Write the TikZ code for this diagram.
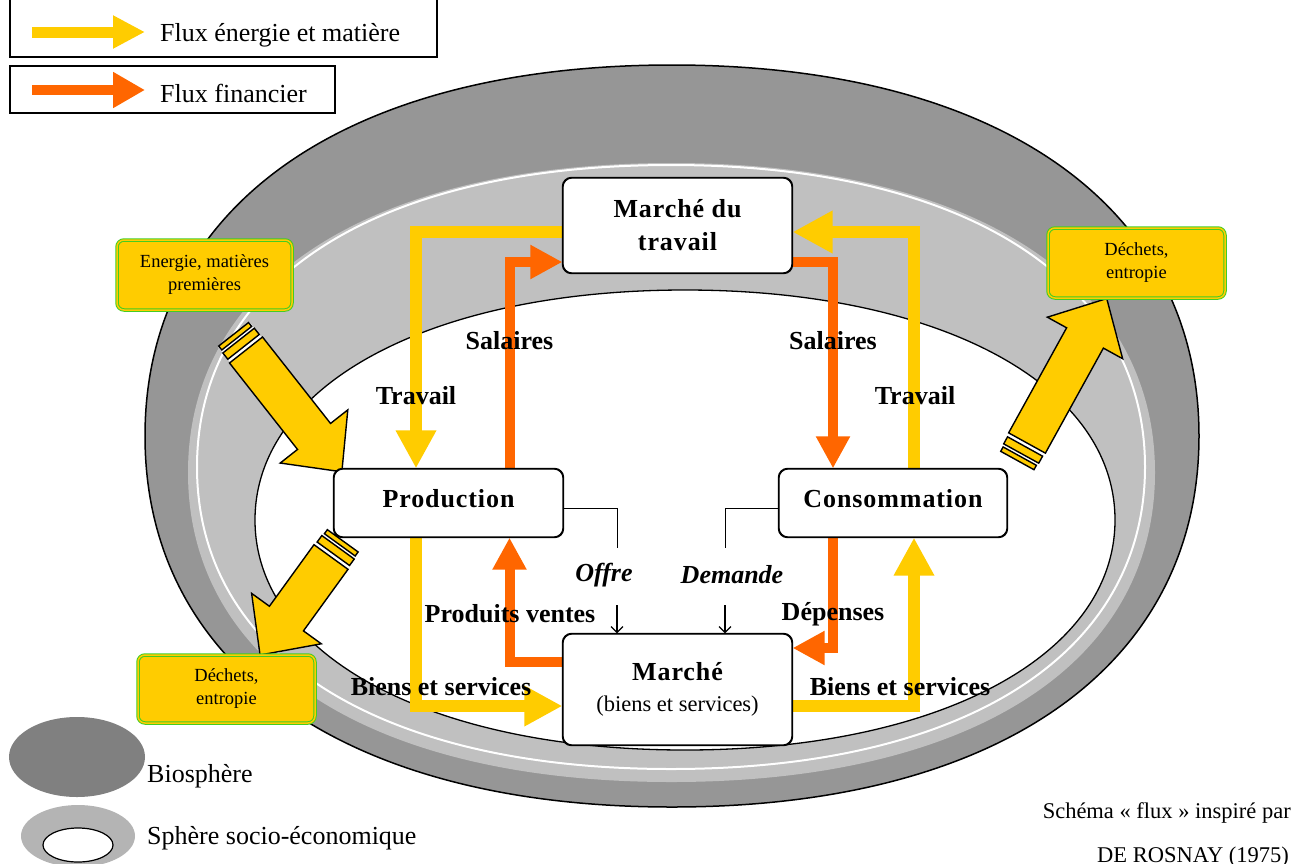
\documentclass[tikz,border=0pt]{standalone}
\usepackage{fontspec}
\setmainfont{Liberation Serif}
\usetikzlibrary{arrows.meta,calc}
\definecolor{yel}{HTML}{FFCC00}
\definecolor{org}{HTML}{FF6600}
\definecolor{biocol}{HTML}{969696}
\definecolor{sociocol}{HTML}{C0C0C0}
\definecolor{legbio}{HTML}{808080}
\definecolor{legsocio}{HTML}{B4B4B4}
\definecolor{ggreen}{HTML}{44CC22}
\newcommand{\szleg}{\fontsize{26}{30}\selectfont}
\newcommand{\szbold}{\fontsize{26}{33}\selectfont\bfseries}
\newcommand{\sztitle}{\fontsize{26}{33}\selectfont\bfseries\addfontfeature{LetterSpace=3.5}}
\newcommand{\szsub}{\fontsize{22.5}{26}\selectfont}
\newcommand{\szsmall}{\fontsize{18.5}{23}\selectfont}
% squarish ellipse: cx cy rx ry k
\newcommand{\sqell}[5]{({#1+#3},{#2}) .. controls ({#1+#3},{#2-#5*#4}) and ({#1+#5*#3},{#2-#4}) .. ({#1},{#2-#4})
 .. controls ({#1-#5*#3},{#2-#4}) and ({#1-#3},{#2-#5*#4}) .. ({#1-#3},{#2})
 .. controls ({#1-#3},{#2+#5*#4}) and ({#1-#5*#3},{#2+#4}) .. ({#1},{#2+#4})
 .. controls ({#1+#5*#3},{#2+#4}) and ({#1+#3},{#2+#5*#4}) .. ({#1+#3},{#2}) -- cycle}
\newcommand{\stripedarrow}[4]{%
\begin{scope}[shift={(#1,#2)},rotate=#3]
 \fill[white] (-20,-20) -- (0,-20) -- (0,20) -- (-20,20) -- cycle;
 \draw[bigarr] (-4,-20) -- (-12,-20) -- (-12,20) -- (-4,20) -- cycle;
 \draw[bigarr] (-15,-19) -- (-20,-19) -- (-20,19) -- (-15,19) -- cycle;
 \draw[bigarr] (0,-21) -- ({#4-45},-21) -- ({#4-45},-43) -- (#4,0) -- ({#4-45},43) -- ({#4-45},21) -- (0,21) -- cycle;
\end{scope}}
\begin{document}
\begin{tikzpicture}[x=1pt,y=-1pt,
  box/.style={draw, line width=1.2pt, fill=white, rounded corners=9pt, inner sep=0pt, align=center},
  gbox/.style={fill=yel, draw=ggreen, line width=1pt, double=yel, double distance=1.5pt, rounded corners=7pt, inner sep=0pt, align=center, font=\szsmall},
  lab/.style={inner sep=0pt, font=\szbold},
  ilab/.style={inner sep=0pt, font=\szbold\itshape},
  bigarr/.style={fill=yel, draw=black, line width=1.4pt, line join=miter},
  yarr/.style={draw=yel, line width=12pt, -{Triangle[width=38pt,length=38pt]}},
  oarr/.style={draw=org, line width=10pt, -{Triangle[width=32pt,length=32pt]}},
  thin/.style={draw=black, line width=1pt},
  smallarr/.style={draw=black, line width=1.2pt, -{Straight Barb[length=6pt,width=12pt]}}
]
\useasboundingbox (0,0) rectangle (1293,863);
\clip (0,0) rectangle (1293,863);
% spheres
\draw[fill=biocol, line width=1.5pt] \sqell{672}{436}{527}{371}{0.62};
\fill[sociocol] \sqell{671.5}{472.5}{483.5}{309.5}{0.62};
\draw[white, line width=2pt] \sqell{671}{467}{474}{302}{0.62};
\draw[fill=white, line width=1.3pt] \sqell{685}{520}{430}{230}{0.59};

% legend top
\draw[line width=1.2pt] (10,-10) rectangle (437,57);
\draw[line width=1.2pt] (10,66) rectangle (335,113);
\draw[draw=yel, line width=11pt, -{Triangle[width=31pt,length=32pt]}] (32,32) -- (145,32);
\draw[draw=org, line width=10pt, -{Triangle[width=34pt,length=32pt]}] (32,90) -- (145,90);
\node[anchor=west, inner sep=0pt, font=\szleg] (lt1) at (160,35) {Flux énergie et matière};
\node[anchor=west, inner sep=0pt, font=\szleg] (lt2) at (160,93) {Flux financier};

% legend bottom
\fill[legbio] (77,757) ellipse [x radius=68, y radius=40];
\fill[legsocio] (78,836) ellipse [x radius=57, y radius=31];
\draw[fill=white, line width=1.2pt] (78,845) ellipse [x radius=35, y radius=17];
\node[anchor=west, inner sep=0pt, font=\szleg] (lb1) at (147,776) {Biosphère};
\node[anchor=west, inner sep=0pt, font=\szleg] (lb2) at (147,838) {Sphère socio-économique};

% credit
\node[anchor=east, inner sep=0pt, font=\szsub] (cr1) at (1291,813) {Schéma « flux » inspiré par};
\node[anchor=west, inner sep=0pt, font=\szsub] (cr2) at (1097,857) {DE ROSNAY (1975)};

% big striped arrows
\stripedarrow{246}{350}{-51.8}{155}
\stripedarrow{331}{557}{-125.9}{121}
\stripedarrow{1027}{443}{61.1}{165}

% boxes
\node[box, minimum width=229, minimum height=95, font=\sztitle] (mdt) at (677.5,225.5) {Marché du\\travail};
\node[box, minimum width=229, minimum height=68, font=\sztitle, text depth=10pt] (prod) at (448.5,503) {Production};
\node[box, minimum width=228, minimum height=68, font=\sztitle, text depth=10pt] (cons) at (893,503) {Consommation};
\node[box, minimum width=229, minimum height=111, font=\szsub] (mar) at (677.5,689.5) {{\sztitle Marché}\\[5pt](biens et services)};

\node[gbox, minimum width=175, minimum height=70] (ener) at (204.5,275) {Energie, matières\\premières};
\node[gbox, minimum width=177, minimum height=68] (dech1) at (226.5,689) {Déchets,\\entropie};
\node[gbox, minimum width=177, minimum height=70] (dech2) at (1136.5,263) {Déchets,\\entropie};

% flows
\draw[yarr] ([yshift=-6.5pt]mdt.west) -| ([xshift=-32.5pt]prod.north);
\draw[yarr, -{Triangle[width=40pt,length=40pt]}] ([xshift=21pt]cons.north) |- ([yshift=-6.5pt]mdt.east);
\draw[yarr] ([xshift=-32.5pt]prod.south) |- ([yshift=-16.5pt]mar.west);
\draw[yarr] ([yshift=-16.5pt]mar.east) -| ([xshift=21pt]cons.south);
\draw[oarr] ([xshift=61pt]prod.north) |- ([yshift=-36.5pt]mdt.west);
\draw[oarr] ([yshift=-36.5pt]mdt.east) -| ([xshift=-60pt]cons.north);
\draw[oarr] ([yshift=27.5pt]mar.west) -| ([xshift=61pt]prod.south);
\draw[oarr] ([xshift=-60pt]cons.south) |- ([yshift=41.5pt]mar.east);

% redraw box borders on top
\draw[line width=1.2pt, rounded corners=9pt] (mdt.north west) rectangle (mdt.south east);
\draw[line width=1.2pt, rounded corners=9pt] (prod.north west) rectangle (prod.south east);
\draw[line width=1.2pt, rounded corners=9pt] (cons.north west) rectangle (cons.south east);
\draw[line width=1.2pt, rounded corners=9pt] (mar.north west) rectangle (mar.south east);

% offre / demande
\coordinate (oe) at (617,548);
\coordinate (de) at (725,548);
\draw[thin] ([yshift=-5pt]prod.east) -| (oe);
\draw[thin] ([yshift=-5pt]cons.west) -| (de);
\coordinate (oa) at (617,605);
\coordinate (da) at (725,605);
\draw[smallarr] (oa) -- (oa |- mar.north);
\draw[smallarr] (da) -- (da |- mar.north);

% labels
\node[lab] (s1) at (509.5,341) {Salaires};
\node[lab] (s2) at (833,341) {Salaires};
\node[lab] (t1) at (416,396) {Travail};
\node[lab] (t2) at (915,396) {Travail};
\node[lab] (pv) at (510,614) {Produits ventes};
\node[lab] (dp) at (833,614) {Dépenses};
\node[lab] (b1) at (441,687) {Biens et services};
\node[lab] (b2) at (900,687) {Biens et services};
\node[ilab] (of) at (604,575) {Offre};
\node[ilab] (dm) at (732,575) {Demande};
\end{tikzpicture}
\end{document}
